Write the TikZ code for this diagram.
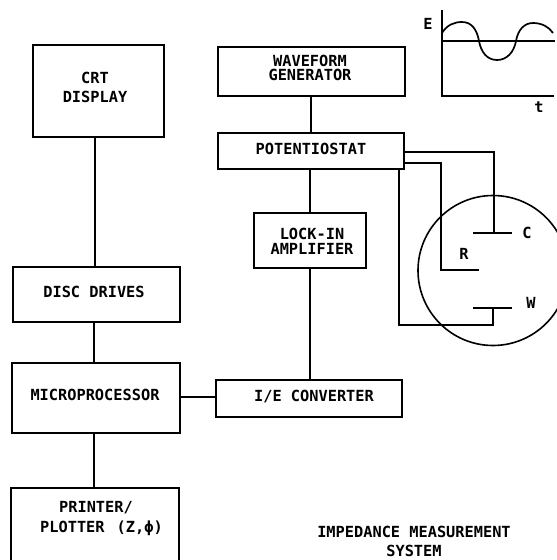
\documentclass[tikz,border=0pt]{standalone}
\usepackage{fontspec}
\setmainfont{DejaVu Sans Mono}[BoldFont={DejaVu Sans Mono Bold}]
\begin{document}
\begin{tikzpicture}[x=1pt,y=-1pt,
  ln/.style={line width=1.7pt,black},
  blk/.style={draw=black,line width=1.7pt,fill=none,inner sep=0pt,rectangle},
  txt/.style={inner sep=0pt,align=center,font=\fontsize{15.3}{14.5}\selectfont\bfseries,text=black}]
\clip (0,0) rectangle (557,560);
\fill[white] (0,0) rectangle (557,560);
% boxes
\node[blk,minimum width=131pt,minimum height=92pt] (crt) at (98.5,91) {};
\node[blk,minimum width=167pt,minimum height=55pt] (disc) at (96.5,294.5) {};
\node[blk,minimum width=168pt,minimum height=70pt] (micro) at (96,398) {};
\node[blk,minimum width=168pt,minimum height=84pt] (printer) at (95,530) {};
\node[blk,minimum width=187pt,minimum height=49pt] (wave) at (311.5,71.5) {};
\node[blk,minimum width=186pt,minimum height=36pt] (pot) at (311,151) {};
\node[blk,minimum width=112pt,minimum height=55pt] (lock) at (310,240.5) {};
\node[blk,minimum width=186pt,minimum height=37pt] (ie) at (309,398.5) {};
% texts
\node[txt,font=\fontsize{15.3}{19}\selectfont\bfseries] (tcrt) at (95,87) {CRT\\DISPLAY};
\node[txt] (tdisc) at (94,292) {DISC DRIVES};
\node[txt] (tmicro) at (95,395) {MICROPROCESSOR};
\node[txt] (tprintera) at (96,508) {PRINTER/};
\node[txt] (tprinterb) at (101.5,528) {{\spaceskip=12pt PLOTTER }{\spaceskip=0.1pt (Z, ϕ)}};
\node[txt] (twave) at (310,68) {WAVEFORM\\GENERATOR};
\node[txt] (tpot) at (311,149) {POTENTIOSTAT};
\node[txt] (tlock) at (312,241.5) {LOCK-IN\\AMPLIFIER};
\node[txt] (tie) at (314,397) {I/E CONVERTER};
\node[txt,font=\fontsize{15.3}{19}\selectfont\bfseries] (ttitle) at (414,541.5) {IMPEDANCE MEASUREMENT\\SYSTEM};
% vertical bus coordinates
\coordinate (cx) at (95,0);
\coordinate (mx) at (94,0);
\coordinate (lx) at (310,0);
\coordinate (hy) at (0,397);
% connectors
\draw[ln] (cx |- crt.south) -- (cx |- disc.north);
\draw[ln] (mx |- disc.south) -- (mx |- micro.north);
\draw[ln] (mx |- micro.south) -- (mx |- printer.north);
\draw[ln,line width=1.3pt] (micro.east |- hy) -- (ie.west |- hy);
\draw[ln] (pot.north |- wave.south) -- (pot.north);
\draw[ln] (lx |- pot.south) -- (lx |- lock.north);
\draw[ln] (lock.south) -- (lock.south |- ie.north);
% cell
\coordinate (cellc) at (493,270.5);
\draw[ln,line width=1.6pt] (cellc) circle[radius=75];
\coordinate (cl) at (473,233);
\coordinate (cr) at (512,233);
\coordinate (cm) at (494,233);
\coordinate (wl) at (473,308);
\coordinate (wr) at (512,308);
\coordinate (wm) at (493,308);
\coordinate (re) at (479,270);
\draw[ln] (cl) -- (cr);
\draw[ln] (wl) -- (wr);
\draw[line width=2.6pt] (wl) -- (wm);
\draw[ln] (pot.east |- 0,152) -- (cm |- 0,152) -- (cm);
\draw[ln] (pot.east |- 0,163) -- (441,163) -- (441,270) -- (re);
\draw[ln] (399,169) -- (399,325) -- (wm |- 0,325) -- (wm);
\node[txt] (lc) at (527,233) {C};
\node[txt] (lr) at (464,254) {R};
\node[txt] (lw) at (531,303) {W};
% waveform
\coordinate (orig) at (442,96);
\draw[ln] (442,10) -- (orig) -- (554,96);
\draw[ln] (441,41) -- (555,41);
\draw[line width=1.7pt] (442,33) .. controls (447,25) and (454,22) .. (462,22)
  .. controls (472,22) and (477,30) .. (479,41)
  .. controls (481,52) and (487,60) .. (497,60)
  .. controls (507,60) and (514,52) .. (516,41)
  .. controls (518,30) and (524,23) .. (533,23)
  .. controls (542,23) and (549,27) .. (553,33);
\node[txt] (le) at (428,24) {E};
\node[txt] (lt) at (539,107) {t};
\end{tikzpicture}
\end{document}
